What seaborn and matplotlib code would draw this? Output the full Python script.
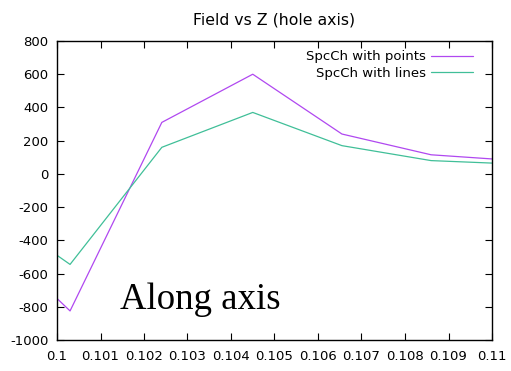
import matplotlib
matplotlib.use("Agg")
import matplotlib.pyplot as plt
import seaborn as sns
import pandas as pd

z = [0.1, 0.1003, 0.10241, 0.1045, 0.10655, 0.1086, 0.11]
points_vals = [-750, -825, 310, 600, 240, 115, 90]
lines_vals = [-490, -545, 160, 370, 170, 80, 65]
series_names = ["SpcCh with points", "SpcCh with lines"]
colors = ["#b048f0", "#40bf98"]
xticks = [0.1, 0.101, 0.102, 0.103, 0.104, 0.105, 0.106, 0.107, 0.108, 0.109, 0.11]
xtick_labels = ["0.1", "0.101", "0.102", "0.103", "0.104", "0.105", "0.106", "0.107", "0.108", "0.109", "0.11"]
yticks = [-1000, -800, -600, -400, -200, 0, 200, 400, 600, 800]

sns.set_theme(style="white")
plt.rcParams['font.family'] = ['DejaVu Sans']
plt.rcParams['text.color'] = 'black'
plt.rcParams['xtick.color'] = 'black'
plt.rcParams['ytick.color'] = 'black'

df = pd.DataFrame({
    "z": z * 2,
    "val": points_vals + lines_vals,
    "series": [series_names[0]] * len(z) + [series_names[1]] * len(z),
})

fig = plt.figure(figsize=(5.11, 3.71), dpi=100)
ax = fig.add_axes([57/511, 1 - 340/371, (492-57)/511, (340-41)/371])
sns.lineplot(data=df, x="z", y="val", hue="series", palette=colors, ax=ax,
             linewidth=0.9, legend=True, sort=False)
ax.set_xlim(0.1, 0.11)
ax.set_ylim(-1000, 800)
ax.set_xticks(xticks)
ax.set_xticklabels(xtick_labels, fontsize=9.5, color="black")
ax.set_yticks(yticks)
ax.set_yticklabels([str(v) for v in yticks], fontsize=9.5, color="black")
ax.set_xlabel("")
ax.set_ylabel("")
ax.tick_params(direction="in", length=5, width=0.8, top=True, right=True,
               bottom=True, left=True, colors="black", pad=7)
ax.tick_params(axis="y", pad=6)
for s in ax.spines.values():
    s.set_color("black")
    s.set_linewidth(1.0)
ax.set_title("Field vs Z (hole axis)", fontsize=11.3, pad=12, color="black")
leg = ax.legend(loc="upper right", frameon=False, markerfirst=False, fontsize=9.5,
                handlelength=3.2, handletextpad=0.4, borderaxespad=0.2,
                labelspacing=0.25, bbox_to_anchor=(1 - 11/435, 0.995))
for t in leg.get_texts():
    t.set_color("black")
ax.text(0.10145, -755, "Along axis", fontsize=26.5, family="Liberation Serif",
        ha="left", va="center", color="black")
fig.savefig("out.png", dpi=100)
